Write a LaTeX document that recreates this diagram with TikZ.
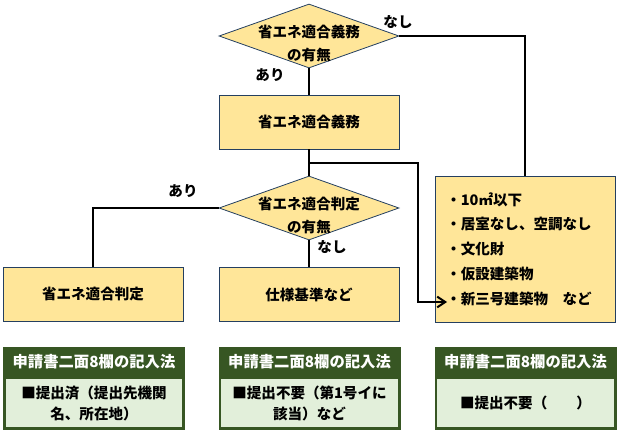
\documentclass[tikz,border=0pt]{standalone}
\usepackage{fontspec}
\setmainfont{Noto Sans CJK JP}
\usepackage{xcolor}
\usepackage{tikz}
\usetikzlibrary{shapes.geometric, arrows.meta}
\definecolor{boxfill}{HTML}{FFE699}
\definecolor{boxline}{HTML}{243F60}
\definecolor{formdark}{HTML}{375623}
\definecolor{formlight}{HTML}{E2EFDA}
\tikzstyle{decision} = [diamond, draw=boxline, fill=boxfill, line width=0.6pt, aspect=2.8, minimum width=135pt, minimum height=48pt, inner xsep=-30pt, inner ysep=-15pt, align=center, text height=38pt, font=\fontsize{10.9pt}{17.25pt}\selectfont\bfseries]
\tikzstyle{process} = [rectangle, draw=boxline, fill=boxfill, line width=0.6pt, minimum width=135pt, minimum height=40.5pt, inner sep=0pt, font=\fontsize{10.9pt}{13pt}\selectfont\bfseries]
\tikzstyle{exempt} = [process, minimum height=109.5pt, text width=118pt, align=left, font=\fontsize{10.9pt}{18.6pt}\selectfont\bfseries]
\tikzstyle{formhead} = [rectangle, fill=formdark, text=white, minimum width=136.5pt, minimum height=22.5pt, inner sep=0pt, font=\fontsize{11.5pt}{14pt}\selectfont\bfseries]
\tikzstyle{formbody} = [rectangle, draw=formdark, fill=formlight, line width=1.9pt, minimum width=134.6pt, minimum height=38.6pt, inner sep=0pt, align=center, font=\fontsize{10.9pt}{15.75pt}\selectfont\bfseries]
\tikzstyle{tag} = [inner sep=0pt, font=\fontsize{10.9pt}{13pt}\selectfont\bfseries]
\tikzstyle{link} = [line width=1.5pt]
\tikzstyle{arrow} = [link, -{Straight Barb[length=6pt, width=8pt]}]

\begin{document}
\begin{tikzpicture}[x=0.75pt, y=-0.75pt]
    \useasboundingbox (0,0) rectangle (621,435);

        % nodes
        \node (duty_q) [decision] at (309,36) {省エネ適合義務\\の有無};
        \node (duty) [process] at (309,122) {省エネ適合義務};
        \node (review_q) [decision] at (309,208) {省エネ適合判定\\の有無};
        \node (review) [process] at (93,294) {省エネ適合判定};
        \node (spec) [process] at (309,294.5) {仕様基準など};
        \node (exempt_list) [exempt] at (525,249) {・10㎡以下\\・居室なし、空調なし\\・文化財\\・仮設建築物\\・新三号建築物　など};
        \node (head_a) [formhead] at (94,362) {申請書二面8欄の記入法};
        \node (body_a) [formbody] at (94,403) {■提出済（提出先機関\\名、所在地）};
        \node (head_b) [formhead] at (309.5,362) {申請書二面8欄の記入法};
        \node (body_b) [formbody] at (309.5,403) {■提出不要（第1号イに\\該当）など};
        \node (head_c) [formhead] at (525.5,362) {申請書二面8欄の記入法};
        \node (body_c) [formbody] at (525.5,403) {■提出不要（　　）};

        % labels
        \node (no_duty) [tag] at (398,22) {なし};
        \node (has_duty) [tag] at (270,75) {あり};
        \node (has_review) [tag] at (183,191) {あり};
        \node (no_review) [tag] at (332,247) {なし};
        \coordinate (split) at (418,163);
        \coordinate (list_end) at (447,302);

        % edges
        \draw [link] (duty_q.east) -| (exempt_list.north);
        \draw [link] (duty_q.south) -- (duty.north);
        \draw [link] (duty.south) -- (review_q.north);
        \draw [arrow] (duty.south) |- (split) |- (list_end);
        \draw [link] (review_q.west) -| (review.north);
        \draw [link] (review_q.south) -- (spec.north);

    \end{tikzpicture}
\end{document}
